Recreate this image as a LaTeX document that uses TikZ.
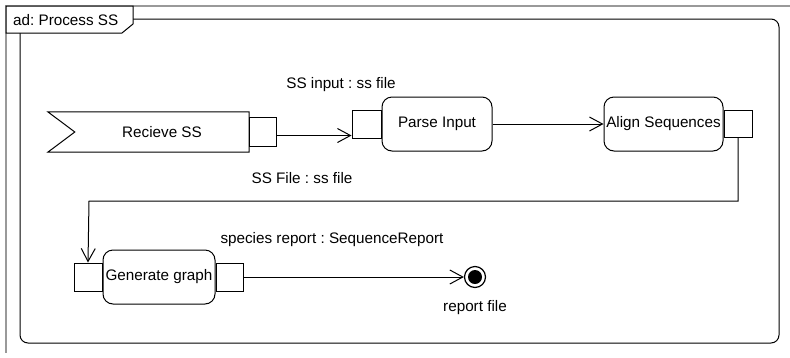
\documentclass[tikz,border=0pt]{standalone}
\usepackage{fontspec}
\setmainfont{Liberation Sans}
\usetikzlibrary{positioning, arrows.meta}

\begin{document}
\begin{tikzpicture}
    [
        x=1pt, y=-1pt, font=\fontsize{15.25pt}{18pt}\selectfont\frenchspacing,
        >={Straight Barb[length=13pt, width=14pt]},
        action_node/.style={rectangle, rounded corners=10pt, draw=black, line width=1pt, minimum height=54pt, inner sep=2pt},
        pin_node/.style={rectangle, draw=black, line width=1pt, fill=white, minimum width=28pt, minimum height=28pt, inner sep=0pt},
        event_node/.style={rectangle, minimum width=174pt, minimum height=40pt, inner sep=2pt},
        final_node/.style={circle, draw=black, line width=1.2pt, fill=white, minimum size=21pt, inner sep=0pt, path picture={\fill[black] (path picture bounding box.center) circle (7pt);}},
        frame_line/.style={draw=black!40, line width=1.5pt},
        flow/.style={->, line width=1pt},
    ]
        \useasboundingbox (0,0) rectangle (790,357);
        % frame
        \draw[frame_line] (790,6) -- (6,6) -- (6,353);
        \draw[line width=1pt, rounded corners=8pt] (133,19) -- (779,19) -- (779,343) -- (20,343) -- (20,33);
        \draw[line width=1pt, fill=white] (6,6) -- (133,6) -- (133,24) -- (122,33) -- (6,33) -- cycle;
        \node[anchor=west, inner sep=0pt] (frame_title) at (13,20) {ad: Process SS};
        % actions
        \node[event_node] (receive) at (162,132) {Recieve SS};
        \draw[line width=1pt] (receive.north east) -- ([xshift=-27pt]receive.north west) -- (receive.west) -- ([xshift=-27pt]receive.south west) -- (receive.south east) -- cycle;
        \node[pin_node, minimum width=27pt, minimum height=29pt] (receive_pin) [right=0pt of receive] {};
        \node[action_node, minimum width=110pt] (parse) at (437,124) {Parse Input};
        \node[pin_node, minimum width=29pt] (parse_pin) [left=0pt of parse] {};
        \node[action_node, minimum width=119pt] (align) at (663.5,124) {Align Sequences};
        \node[pin_node, minimum height=27pt] (align_pin) [right=0pt of align] {};
        \node[action_node, minimum width=112pt] (generate) at (159,277) {Generate graph};
        \node[pin_node] (generate_in) [left=0pt of generate] {};
        \node[pin_node, minimum width=27pt] (generate_out) [right=0pt of generate] {};
        \node[final_node, label={[label distance=9pt]below:report file}] (final) at (475,277) {};
        % object flow labels
        \node (input_label) at (341,85) {SS input : ss file};
        \node (file_label) at (302,178) {SS File : ss file};
        \node (report_label) at (332,240) {species report : SequenceReport};
        % flows
        \coordinate (turn) at (89,201);
        \draw[flow] ([yshift=-3.5pt]receive_pin.east) -- ([yshift=-3.5pt]receive_pin.east -| parse_pin.west);
        \draw[flow] (parse) -- (align);
        \draw[flow] (align_pin.south) |- (turn) -- (generate_in.north);
        \draw[flow] (generate_out) -- (final);
    \end{tikzpicture}
\end{document}
